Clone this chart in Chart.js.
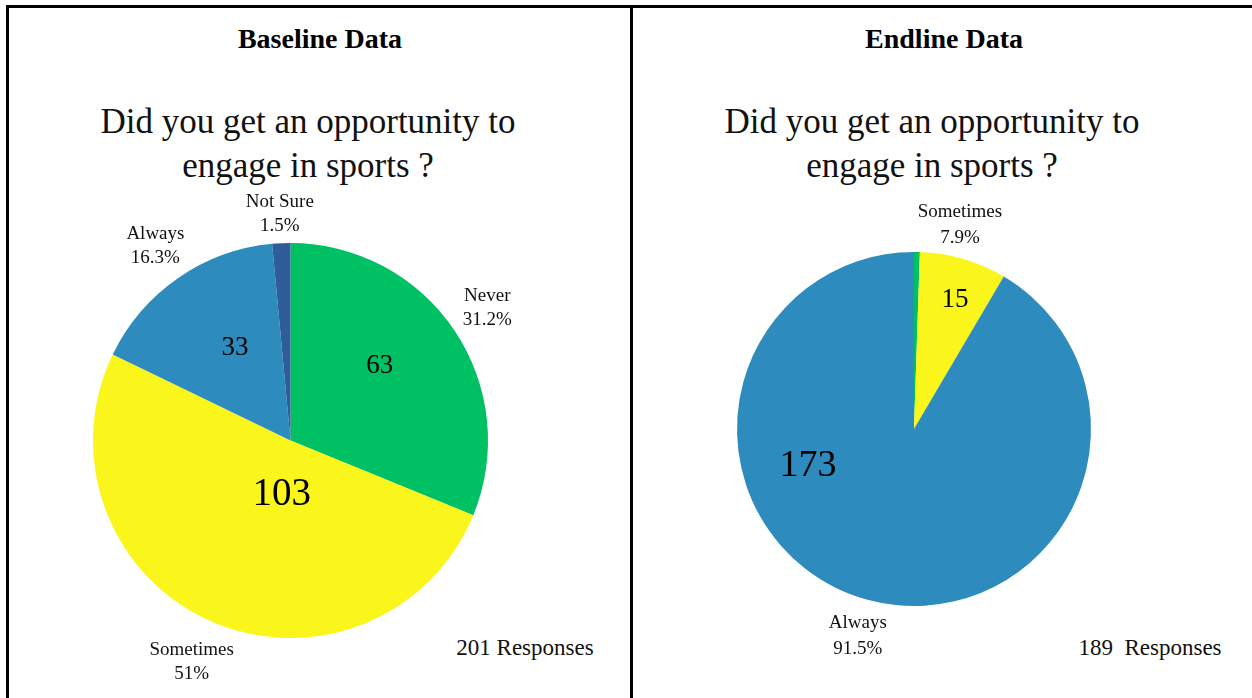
<!DOCTYPE html>
<html>
<head>
<meta charset="utf-8">
<script src="https://cdn.jsdelivr.net/npm/chart.js@4.4.1/dist/chart.umd.min.js"></script>
<style>
  body { margin: 0; background: #fff; font-family: "Liberation Serif", "Times New Roman", serif; }
  #page { position: relative; width: 1252px; height: 698px; overflow: hidden; }
  .line { position: absolute; background: #000; }
  .txt { position: absolute; transform: translateX(-50%); white-space: pre; color: #111; text-align: center; }
  .head { font-weight: bold; font-size: 28px; line-height: 28px; top: 25px; color: #000; }
  .question { font-size: 35px; line-height: 44px; top: 100px; }
  .resp { font-size: 23px; line-height: 23px; top: 636px; }
  .panel { position: absolute; top: 8px; height: 690px; }
</style>
</head>
<body>
<div id="page">
  <div class="line" style="left:6px; top:5px; width:1246px; height:3px"></div>
  <div class="line" style="left:6px; top:5px; width:3px; height:693px"></div>
  <div class="line" style="left:630px; top:5px; width:3px; height:693px"></div>

  <div class="txt head" style="left:320px">Baseline Data</div>
  <div class="txt head" style="left:944px">Endline Data</div>
  <div class="txt question" style="left:308px">Did you get an opportunity to
engage in sports ?</div>
  <div class="txt question" style="left:932px">Did you get an opportunity to
engage in sports ?</div>
  <div class="txt resp" style="left:525px">201 Responses</div>
  <div class="txt resp" style="left:1150px">189  Responses</div>

  <div class="panel" style="left:9px; width:621px"><canvas id="baseline"></canvas></div>
  <div class="panel" style="left:633px; width:619px"><canvas id="endline"></canvas></div>
</div>
<script>
// answers, in drawing order (clockwise from 12 o'clock)
const baselineLabels = ["Never", "Sometimes", "Always", "Not Sure"]
const baselineCounts = [63, 103, 33, 3]

const endlineLabels = ["Never", "Sometimes", "Always"]
const endlineCounts = [1, 15, 173]

const GREEN = "#00c064"
const YELLOW = "#faf51b"
const BLUE = "#2e8bbd"
const DARK_BLUE = "#2e5d9a"

function fmtPct(p) {
  return p.toFixed(1).replace(/\.0$/, "") + "%"
}

// draws "name / pct" outside each slice and the count inside it
const sliceLabels = {
  id: "sliceLabels",
  afterDatasetsDraw(chart, args, opts) {
    const ctx = chart.ctx
    const arcs = chart.getDatasetMeta(0).data
    const values = chart.data.datasets[0].data
    const total = values.reduce((a, b) => a + b, 0)
    const toRad = (deg) => (deg * Math.PI) / 180 - Math.PI / 2

    ctx.save()
    ctx.textAlign = "center"
    ctx.textBaseline = "middle"
    ctx.fillStyle = "#111"

    arcs.forEach((arc, i) => {
      const { x, y, startAngle, endAngle, outerRadius } = arc.getProps(
        ["x", "y", "startAngle", "endAngle", "outerRadius"],
        true,
      )
      const pct = (values[i] / total) * 100
      if (pct < 1) return

      let angle = (startAngle + endAngle) / 2
      let factor = opts.outside
      const over = opts.outerAt[i]
      if (over) {
        angle = toRad(over[0])
        factor = over[1]
      }
      const ox = x + Math.cos(angle) * outerRadius * factor
      const oy = y + Math.sin(angle) * outerRadius * factor
      ctx.font = `${opts.nameSize}px "Liberation Serif"`
      ctx.fillText(chart.data.labels[i], ox, oy - opts.gap / 2)
      ctx.fillText(fmtPct(pct), ox, oy + opts.gap / 2)

      const inner = opts.innerAt[i]
      if (inner) {
        const a = toRad(inner[0])
        ctx.fillStyle = "#000"
        ctx.font = `${inner[2]}px "Liberation Serif"`
        ctx.fillText(
          String(values[i]),
          x + Math.cos(a) * outerRadius * inner[1],
          y + Math.sin(a) * outerRadius * inner[1],
        )
        ctx.fillStyle = "#111"
      }
    })
    ctx.restore()
  },
}

function pieChart(canvasId, labels, counts, colors, padding, labelOpts) {
  new Chart(document.getElementById(canvasId), {
    type: "pie",
    plugins: [sliceLabels],
    options: {
      layout: { padding: padding },
      plugins: {
        legend: { display: false },
        tooltip: { enabled: false },
        sliceLabels: labelOpts,
      },
      responsive: true,
      maintainAspectRatio: false,
      devicePixelRatio: 1,
      animation: false,
      events: [],
    },
    data: {
      labels: labels,
      datasets: [
        {
          data: counts,
          backgroundColor: colors,
          borderWidth: 0,
          hoverBorderWidth: 0,
          hoverOffset: 0,
          offset: 0,
        },
      ],
    },
  })
}

pieChart(
  "baseline",
  baselineLabels,
  baselineCounts,
  [GREEN, YELLOW, BLUE, DARK_BLUE],
  { left: 84, right: 142, top: 235, bottom: 60 },
  {
    outside: 1.2,
    gap: 24,
    nameSize: 19,
    outerAt: { 1: [204, 1.23], 3: [357.3, 1.15] },
    innerAt: { 0: [50, 0.59, 27], 1: [189, 0.28, 39], 2: [329, 0.546, 27] },
  },
)

pieChart(
  "endline",
  endlineLabels,
  endlineCounts,
  [GREEN, YELLOW, BLUE],
  { left: 104, right: 161, top: 244, bottom: 92 },
  {
    outside: 1.2,
    gap: 26,
    nameSize: 19,
    outerAt: { 1: [12.7, 1.18], 2: [195.2, 1.21] },
    innerAt: { 1: [17.6, 0.765, 27], 2: [250.8, 0.634, 38] },
  },
)
</script>
</body>
</html>
